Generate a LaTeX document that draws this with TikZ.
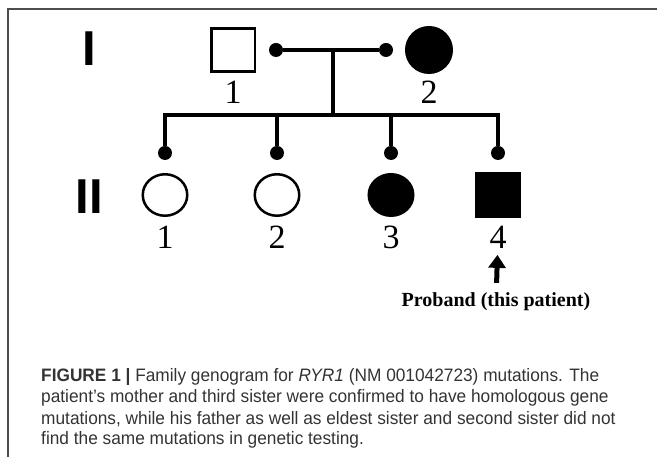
\documentclass[tikz,border=0pt]{standalone}
\usepackage{fontspec}
\setmainfont{Liberation Serif}
\newfontfamily\capfont[FakeStretch=0.96]{Liberation Sans}
\newfontfamily\genfont{Liberation Sans}
\usepackage{tikz}
\usetikzlibrary{arrows.meta,shapes.geometric}
\definecolor{captext}{HTML}{333333}
\definecolor{framegray}{HTML}{4D4D4D}

\begin{document}
\begin{tikzpicture}[x=1pt,y=1pt,node distance=42pt,>={Triangle[width=17pt,length=13pt]}]
		\tikzstyle{male}=[rectangle, draw=black, line width=2.5pt, minimum width=43.5pt, minimum height=43pt, inner sep=0pt]
		\tikzstyle{female}=[ellipse, draw=black, line width=2.5pt, minimum width=44.5pt, minimum height=41.5pt, inner sep=0pt]
		\tikzstyle{affected}=[fill=black]
		\tikzstyle{knot}=[circle, fill=black, minimum size=14pt, inner sep=0pt]
		\tikzstyle{num}=[inner sep=0pt, font=\fontsize{34}{34}\selectfont]
		\tikzstyle{gen}=[inner sep=0pt, font=\genfont\bfseries\fontsize{49}{49}\selectfont]
		\tikzstyle{line}=[line width=4.5pt, miter limit=2]
		\tikzstyle{capline}=[anchor=base west, inner sep=0pt, text=captext, font=\capfont\fontsize{18}{18}\selectfont]

		\useasboundingbox (0,0) rectangle (657,457);
		\draw [framegray, line width=1.5pt] (8,0) -- (8,448) -- (657,448);

		% generation I
		\node [gen] (g1) at (89,408) {I};
		\node [male] (p1) at (233,407) {};
		\node [female,affected,minimum width=45.5pt,minimum height=45.5pt] (p2) at (429,407) {};
		\node [num] (l1) [below of=p1] {1};
		\node [num] (l2) [below of=p2] {2};
		\node [knot] (m1) at (276,407) {};
		\node [knot] (m2) at (386,407) {};
		\draw [line] (m1) -- (m2);
		\coordinate (mid) at (333,407);
		\coordinate (sib) at (333,342);
		\draw [line] (mid) -- (sib);

		% generation II
		\node [gen] (g2) at (89,260) {II};
		\node [female] (c1) at (165,262) {};
		\node [female] (c2) at (277,262) {};
		\node [female,affected] (c3) at (391,262) {};
		\node [male,affected] (c4) at (498,262) {};
		\foreach \i in {1,...,4}{
			\node [knot] (d\i) [above of=c\i, node distance=42pt] {};
			\node [num] (n\i) [below of=c\i] {\i};
		}
		\draw [line] (d1) -- (d1 |- sib) -- (d4 |- sib) -- (d4);
		\draw [line] (d2) -- (d2 |- sib);
		\draw [line] (d3) -- (d3 |- sib);

		% proband
		\node [inner sep=0pt, anchor=base, font=\bfseries\fontsize{20}{20}\selectfont] (proband) at (496,150) {Proband (this patient)};
		\draw [->, line width=5pt, shorten <=10pt, shorten >=6.5pt] (proband) -- (n4);

		% caption
		\node [capline] (cap1) at (41,75) {\textbf{FIGURE 1 |} Family genogram for \textit{RYR1} (NM 001042723) mutations. The};
		\node [capline] (cap2) at (41,54) {patient’s mother and third sister were confirmed to have homologous gene};
		\node [capline] (cap3) at (41,32) {mutations, while his father as well as eldest sister and second sister did not};
		\node [capline] (cap4) at (41,12) {find the same mutations in genetic testing.};
	\end{tikzpicture}
\end{document}
